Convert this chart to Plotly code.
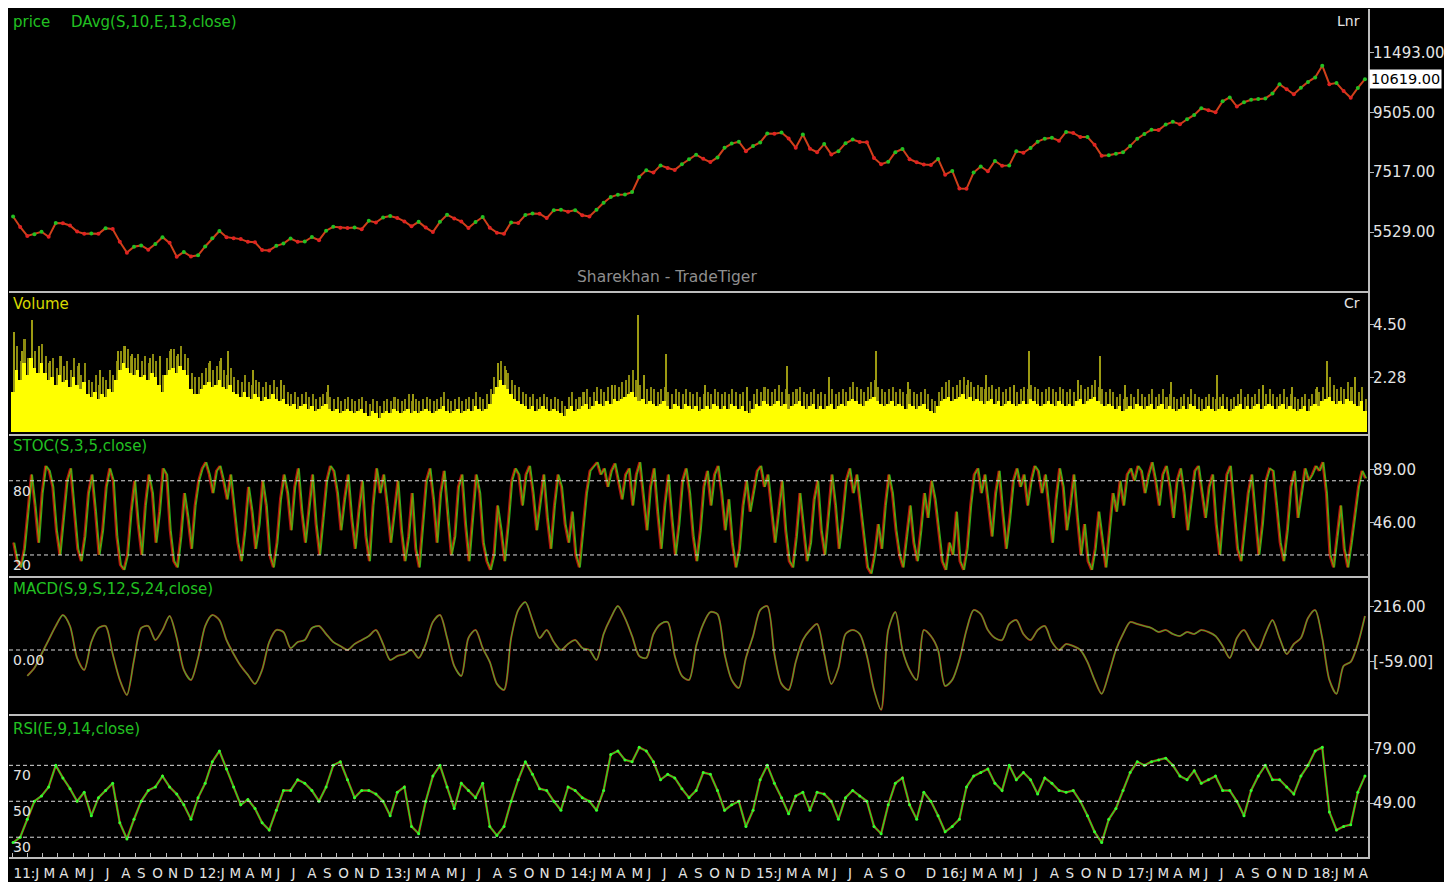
import plotly.graph_objects as go
import pandas as pd

# ---------------- data ----------------
# Close, sampled every two weeks from 2011-01-03
price_close = [
    6050, 5700, 5400, 5460, 5540, 5370, 5830, 5820, 5750, 5545, 5475, 5485, 5470, 5660, 5630, 5210, 4845, 5040, 5085, 4945, 5130, 5360, 5170, 4710, 4865, 4715,
    4755, 5050, 5325, 5565, 5360, 5320, 5295, 5205, 5190, 4930, 4920, 5070, 5145, 5315, 5205, 5215, 5365, 5260, 5575, 5705, 5675, 5665, 5685, 5625, 5905, 5850,
    6015, 6065, 6000, 5885, 5720, 5870, 5680, 5530, 5870, 6105, 5985, 5880, 5665, 5865, 6030, 5675, 5510, 5470, 5850, 5835, 6095, 6145, 6140, 5995, 6260, 6275,
    6210, 6260, 6090, 6050, 6275, 6505, 6695, 6775, 6780, 6860, 7365, 7585, 7510, 7750, 7665, 7600, 7790, 7955, 8105, 7970, 7860, 8015, 8335, 8475, 8540, 8225,
    8395, 8515, 8810, 8805, 8845, 8645, 8340, 8780, 8305, 8190, 8460, 8115, 8225, 8485, 8610, 8530, 8520, 8000, 7790, 7870, 8190, 8295, 7955, 7855, 7780, 7760,
    7965, 7440, 7565, 6980, 6970, 7510, 7715, 7555, 7900, 7735, 7750, 8220, 8170, 8330, 8540, 8640, 8670, 8570, 8865, 8830, 8695, 8695, 8435, 8075, 8085, 8140, 8185,
    8400, 8640, 8795, 8940, 8925, 9110, 9200, 9120, 9285, 9430, 9655, 9590, 9520, 9885, 10015, 9710, 9855, 9935, 9965, 9980, 10145, 10450, 10285, 10120, 10335, 10530,
    10680, 11070, 10455, 10490, 10225, 10000, 10330, 10619,
]

# MACD, same two-week sampling
macd_values = [
    None, None, -130, -90, -20, 50, 120, 175, 120, -40,
    -100, 40, 110, 120, -20, -150, -225, -50, 110, 120,
    50, 100, 170, 60, -100, -150, -40, 120, 175, 150,
    50, -20, -80, -125, -170, -100, 40, 100, 90, 10,
    40, 50, 110, 120, 80, 40, 20, 0, 30, 50,
    70, 100, 30, -50, -30, -20, 0, -40, 30, 140,
    175, 60, -80, -130, 60, 100, 10, -60, -170, -200,
    60, 200, 240, 150, 60, 100, 40, 0, 30, 50,
    10, 0, -50, 80, 160, 220, 160, 70, -30, -40,
    80, 130, 140, -30, -130, -150, 20, 130, 190, 180,
    -20, -150, -190, -40, 70, 200, 220, -20, -170, -200,
    -60, 50, 100, 130, -20, -170, -90, 80, 100, 80,
    -30, -200, -300, 100, 190, 0, -100, -150, 100, 70,
    0, -180, -150, -50, 100, 200, 180, 100, 60, 50,
    130, 150, 80, 50, 100, 120, 40, 0, 30, 20,
    0, -60, -150, -220, -120, 0, 80, 140, 130, 120,
    110, 90, 100, 80, 70, 90, 80, 100, 90, 70,
    20, -40, 60, 100, 40, 0, 80, 150, 60, -20,
    30, 60, 160, 200, 60, -150, -220, -80, -60, 30,
    170,
]

# RSI, same two-week sampling
rsi_values = [
    27, 30, 40, 50, 53, 58, 70, 63, 57, 50,
    55, 42, 52, 56, 60, 38, 29, 40, 50, 56,
    58, 64, 58, 54, 48, 40, 52, 60, 72, 78,
    68, 58, 48, 51, 46, 38, 34, 45, 56, 56,
    62, 60, 56, 50, 58, 70, 72, 62, 52, 56,
    56, 54, 50, 42, 55, 58, 36, 32, 50, 64,
    70, 58, 46, 60, 56, 52, 60, 36, 31, 36,
    50, 62, 72, 65, 57, 56, 50, 45, 58, 56,
    52, 50, 45, 56, 76, 78, 73, 72, 80, 78,
    72, 62, 65, 63, 57, 52, 56, 66, 65, 56,
    45, 48, 50, 36, 45, 62, 70, 60, 52, 43,
    53, 55, 45, 55, 54, 50, 40, 52, 56, 53,
    50, 36, 32, 48, 60, 63, 48, 40, 55, 50,
    42, 33, 36, 40, 58, 64, 66, 68, 60, 56,
    70, 62, 66, 62, 54, 63, 60, 56, 55, 56,
    50, 42, 33, 27, 40, 46, 56, 66, 72, 70,
    72, 73, 74, 70, 64, 62, 67, 60, 62, 64,
    56, 56, 50, 42, 56, 64, 70, 62, 62, 58,
    54, 64, 70, 78, 80, 44, 34, 36, 37, 55,
    64,
]

# Stochastic, weekly from 2011-01-03
stoc_k = [
    30, 15, 10, 25, 55, 85, 60, 30, 70, 92, 88, 75, 40, 20, 50, 80, 90, 60, 25, 15, 35, 70, 85, 55, 20, 40, 75, 90, 80, 35, 12, 8, 20, 55, 80, 45, 20, 60, 85, 70, 30, 55, 90, 85, 40, 15, 10, 35, 70, 50, 25, 60,
    80, 90, 95, 85, 70, 88, 92, 80, 65, 85, 60, 30, 15, 40, 75, 55, 25, 45, 80, 60, 20, 10, 30, 65, 85, 70, 40, 75, 90, 55, 30, 60, 85, 45, 20, 50, 80, 92, 88, 70, 40, 65, 85, 50, 25, 55, 80, 35, 15, 60, 90, 70,
    85, 60, 30, 55, 80, 40, 15, 35, 70, 25, 10, 45, 80, 90, 65, 30, 70, 88, 50, 20, 35, 75, 85, 45, 15, 50, 85, 70, 30, 15, 8, 20, 60, 40, 15, 45, 80, 90, 85, 60, 85, 92, 70, 40, 65, 85, 50, 25, 60, 85, 75, 45,
    30, 55, 20, 10, 40, 70, 88, 92, 95, 85, 90, 75, 88, 94, 80, 65, 85, 90, 60, 85, 95, 70, 40, 75, 90, 55, 25, 60, 85, 50, 20, 45, 80, 90, 70, 35, 15, 40, 75, 88, 60, 85, 92, 70, 40, 65, 30, 10, 25, 60, 80, 55,
    70, 88, 92, 75, 85, 60, 30, 55, 80, 40, 15, 10, 35, 70, 45, 15, 30, 65, 80, 40, 20, 55, 85, 60, 25, 50, 80, 90, 70, 85, 60, 30, 10, 5, 20, 45, 25, 60, 85, 70, 40, 20, 10, 35, 60, 30, 15, 40, 70, 50, 80, 65,
    40, 15, 8, 30, 20, 55, 15, 8, 25, 60, 85, 90, 70, 85, 60, 35, 70, 88, 55, 25, 50, 80, 90, 75, 85, 60, 80, 92, 88, 70, 85, 55, 30, 65, 90, 75, 40, 60, 85, 50, 20, 45, 15, 8, 25, 55, 30, 10, 40, 70, 55, 80, 60,
    85, 90, 80, 92, 88, 70, 85, 95, 80, 60, 85, 92, 75, 50, 80, 90, 70, 40, 65, 88, 92, 70, 50, 75, 85, 45, 20, 55, 85, 92, 60, 25, 15, 40, 70, 85, 55, 20, 45, 80, 90, 88, 60, 30, 15, 40, 75, 88, 50, 70, 90, 80,
    85, 92, 88, 95, 70, 20, 10, 35, 60, 25, 10, 30, 55, 75, 88, 82,
]

# Volume (Cr), weekly typical level from 2011-01-03
volume_cr = [
    1.7, 2.6, 2.2, 2.9, 2.4, 3.1, 2.7, 2.5, 2.9, 2.5, 2.2, 2.3, 2.0, 2.4, 2.1, 2.2, 1.9, 2.3, 2.0, 1.8, 2.1, 1.6, 1.5, 1.7, 1.4, 1.6, 1.5, 1.8, 1.7, 2.2, 2.6, 2.9, 2.7, 2.5, 2.4, 2.6, 2.3, 2.4, 2.2, 2.5, 2.3, 2.0, 1.7, 2.4, 2.6, 2.7, 2.5, 2.8, 2.6, 2.4, 1.8, 1.6,
    1.6, 1.8, 2.0, 2.1, 1.9, 2.0, 2.2, 1.9, 1.8, 2.0, 1.7, 1.6, 1.5, 1.7, 1.5, 1.4, 1.6, 1.5, 1.3, 1.5, 1.4, 1.6, 1.4, 1.3, 1.4, 1.2, 1.1, 1.2, 1.0, 1.1, 1.2, 1.0, 1.1, 0.9, 1.0, 1.1, 1.2, 1.0, 0.9, 1.0, 0.8, 0.9, 1.0, 0.9, 0.8, 0.9, 1.0, 0.8, 0.7, 0.9, 0.8, 0.6,
    0.8, 0.9, 0.8, 1.0, 0.9, 0.8, 0.9, 1.0, 0.8, 0.9, 0.8, 0.9, 1.0, 0.9, 0.8, 0.9, 1.0, 1.1, 0.9, 0.8, 0.9, 1.0, 0.8, 0.9, 1.0, 0.9, 1.1, 1.0, 0.9, 1.0, 1.2, 1.6, 1.9, 2.2, 2.0, 1.8, 1.6, 1.4, 1.3, 1.2, 1.1, 1.0, 1.1, 0.9, 1.0, 1.1, 1.0, 0.9, 1.0, 0.9, 0.8, 0.7,
    1.0, 1.1, 0.9, 1.0, 1.1, 1.2, 1.0, 1.1, 1.3, 1.2, 1.1, 1.3, 1.2, 1.4, 1.3, 1.4, 1.5, 1.6, 1.7, 1.5, 1.3, 1.4, 1.2, 1.3, 1.2, 1.1, 1.2, 1.3, 1.1, 1.0, 1.2, 1.1, 1.0, 1.2, 1.1, 1.0, 1.1, 0.9, 1.0, 1.1, 1.0, 1.2, 1.1, 1.0, 1.1, 1.0, 1.2, 1.1, 1.0, 1.1, 0.9, 0.8,
    1.0, 1.2, 1.1, 1.3, 1.2, 1.1, 1.2, 1.3, 1.1, 1.2, 1.0, 1.1, 1.2, 1.3, 1.1, 1.0, 1.1, 1.2, 1.0, 1.1, 1.0, 1.1, 1.2, 1.0, 1.1, 1.2, 1.1, 1.3, 1.4, 1.3, 1.2, 1.1, 1.3, 1.4, 1.5, 1.3, 1.2, 1.1, 1.2, 1.3, 1.1, 1.2, 1.1, 1.0, 1.2, 1.1, 1.0, 1.1, 1.2, 1.0, 0.9, 0.8,
    1.1, 1.3, 1.4, 1.5, 1.3, 1.4, 1.5, 1.6, 1.4, 1.5, 1.3, 1.4, 1.3, 1.2, 1.3, 1.4, 1.2, 1.3, 1.1, 1.2, 1.3, 1.2, 1.1, 1.2, 1.3, 1.2, 1.4, 1.3, 1.2, 1.1, 1.2, 1.3, 1.2, 1.1, 1.3, 1.2, 1.1, 1.2, 1.1, 1.3, 1.4, 1.2, 1.3, 1.4, 1.5, 1.3, 1.2, 1.1, 1.2, 1.1, 1.0, 1.1, 0.9,
    1.0, 1.1, 1.0, 1.2, 1.1, 1.0, 1.1, 1.2, 1.0, 1.1, 1.2, 1.0, 1.1, 1.0, 0.9, 1.0, 1.1, 1.0, 1.2, 1.1, 1.0, 0.9, 1.0, 1.1, 1.0, 0.9, 1.0, 1.1, 1.0, 0.9, 1.0, 1.1, 1.2, 1.0, 1.1, 1.0, 1.1, 1.2, 1.0, 1.1, 1.2, 1.1, 1.0, 1.1, 1.2, 1.0, 1.1, 1.0, 0.9, 1.0, 1.1, 0.9,
    1.1, 1.2, 1.1, 1.3, 1.4, 1.5, 1.3, 1.2, 1.3, 1.2, 1.4, 1.3, 1.2, 1.1, 1.3, 0.9,
]

# Volume (Cr), weekly highest day (olive strokes above the yellow)
volume_high_cr = [
    3.2, 3.6, 3.0, 3.9, 3.1, 3.8, 3.4, 3.3, 3.7, 3.2, 2.9, 3.1, 2.7, 3.2, 2.8, 3.0, 2.6, 3.1, 2.8, 2.4, 2.9, 2.2, 2.1, 2.4, 2.0, 2.3, 2.2, 2.6, 2.4, 3.0, 3.4, 3.6, 3.5, 3.2, 3.1, 3.3, 3.0, 3.2, 2.9, 3.3, 3.0, 2.7, 2.4, 3.1, 3.4, 3.5, 3.2, 3.6, 3.3, 3.1, 2.5, 2.3,
    2.3, 2.5, 2.7, 2.9, 2.6, 2.8, 3.0, 2.6, 2.4, 2.7, 2.3, 2.2, 2.1, 2.4, 2.1, 2.0, 2.2, 2.1, 1.9, 2.1, 2.0, 2.2, 1.9, 1.8, 2.0, 1.7, 1.6, 1.7, 1.5, 1.6, 1.7, 1.5, 1.6, 1.4, 1.5, 1.6, 1.7, 1.5, 1.4, 1.5, 1.3, 1.4, 1.5, 1.4, 1.3, 1.4, 1.5, 1.3, 1.2, 1.4, 1.3, 1.1,
    1.3, 1.4, 1.3, 1.5, 1.4, 1.3, 1.4, 1.6, 1.3, 1.4, 1.3, 1.4, 1.5, 1.4, 1.3, 1.4, 1.5, 1.7, 1.4, 1.3, 1.4, 1.5, 1.3, 1.4, 1.5, 1.4, 1.7, 1.5, 1.4, 1.6, 1.8, 2.3, 2.6, 3.0, 2.8, 2.5, 2.2, 2.0, 1.9, 1.7, 1.6, 1.5, 1.6, 1.4, 1.5, 1.6, 1.5, 1.4, 1.5, 1.4, 1.3, 1.1,
    1.5, 1.7, 1.4, 1.5, 1.7, 1.8, 1.5, 1.7, 1.9, 1.8, 1.7, 1.9, 1.8, 2.0, 1.9, 2.1, 2.2, 2.4, 2.6, 2.2, 2.0, 2.1, 1.8, 1.9, 1.8, 1.7, 1.8, 1.9, 1.7, 1.6, 1.8, 1.7, 1.6, 1.8, 1.7, 1.6, 1.7, 1.5, 1.6, 1.7, 1.6, 1.8, 1.7, 1.6, 1.7, 1.6, 1.8, 1.7, 1.6, 1.7, 1.4, 1.3,
    1.6, 1.8, 1.7, 1.9, 1.8, 1.7, 1.8, 2.0, 1.7, 1.8, 1.6, 1.7, 1.8, 1.9, 1.7, 1.6, 1.7, 1.8, 1.6, 1.7, 1.6, 1.7, 1.8, 1.6, 1.7, 1.8, 1.7, 1.9, 2.1, 1.9, 1.8, 1.7, 1.9, 2.1, 2.2, 1.9, 1.8, 1.7, 1.8, 1.9, 1.7, 1.8, 1.7, 1.6, 1.8, 1.7, 1.6, 1.7, 1.8, 1.6, 1.4, 1.3,
    1.7, 1.9, 2.1, 2.2, 1.9, 2.0, 2.2, 2.3, 2.0, 2.1, 1.9, 2.0, 1.9, 1.8, 1.9, 2.0, 1.8, 1.9, 1.7, 1.8, 1.9, 1.8, 1.7, 1.8, 1.9, 1.8, 2.0, 1.9, 1.8, 1.7, 1.8, 1.9, 1.8, 1.7, 1.9, 1.8, 1.7, 1.8, 1.7, 1.9, 2.0, 1.8, 1.9, 2.0, 2.2, 1.9, 1.8, 1.7, 1.8, 1.7, 1.5, 1.6, 1.4,
    1.5, 1.6, 1.5, 1.8, 1.6, 1.5, 1.6, 1.8, 1.5, 1.6, 1.8, 1.5, 1.6, 1.5, 1.4, 1.5, 1.6, 1.5, 1.8, 1.6, 1.5, 1.4, 1.5, 1.6, 1.5, 1.4, 1.5, 1.6, 1.5, 1.4, 1.5, 1.6, 1.8, 1.5, 1.6, 1.5, 1.6, 1.8, 1.5, 1.6, 1.8, 1.6, 1.5, 1.6, 1.8, 1.5, 1.6, 1.5, 1.4, 1.5, 1.6, 1.4,
    1.6, 1.8, 1.7, 1.9, 2.1, 2.3, 2.0, 1.8, 1.9, 1.8, 2.1, 1.9, 1.8, 1.7, 1.9, 1.4,
]

# Tall single-day volume spikes (Cr)
spike_dates = [
    "2011-01-05", "2011-01-20", "2011-02-10", "2011-02-24", "2011-03-17", "2011-04-07", "2011-05-12", "2011-06-23",
    "2011-07-28", "2011-08-11", "2011-08-25", "2011-09-29", "2011-10-20", "2011-11-10", "2011-11-24", "2012-01-26",
    "2012-02-16", "2012-03-01", "2012-04-19", "2012-06-14", "2012-09-13", "2013-02-28", "2013-08-15", "2013-08-29",
    "2014-01-30", "2014-03-27", "2014-05-16", "2014-05-29", "2014-07-10", "2014-09-25", "2014-12-18", "2015-03-05",
    "2015-05-28", "2015-08-27", "2015-10-29", "2016-02-25", "2016-03-31", "2016-05-26", "2016-06-24", "2016-09-29",
    "2016-11-10", "2016-12-29", "2017-03-30", "2017-06-29", "2017-09-28", "2017-11-23", "2018-01-11", "2018-02-01",
    "2018-03-28",
]
spike_cr = [
    4.2, 3.4, 4.7, 3.6, 3.0, 3.2, 2.9, 2.6,
    3.4, 3.6, 3.3, 3.1, 3.2, 3.5, 3.3, 3.0,
    3.1, 3.4, 2.6, 2.2, 2.0, 1.6, 2.9, 2.6,
    1.7, 2.0, 4.9, 2.4, 3.3, 2.0, 1.9, 2.8,
    2.3, 3.4, 2.1, 2.2, 2.4, 2.0, 3.4, 2.2,
    3.2, 2.0, 2.1, 2.4, 2.0, 1.9, 1.9, 3.0,
    2.3,
]

# Axis labels
price_ticks = [11493, 9505, 7517, 5529]
price_tick_text = ["11493.00", "9505.00", "7517.00", "5529.00"]
volume_ticks = [4.50, 2.28]
volume_tick_text = ["4.50", "2.28"]
stoc_ticks = [89, 46]
stoc_tick_text = ["89.00", "46.00"]
macd_ticks = [216, -59]
macd_tick_text = ["216.00", "[-59.00]"]
rsi_ticks = [79, 49]
rsi_tick_text = ["79.00", "49.00"]
last_close_label = "10619.00"
year_labels = ["11:", "12:", "13:", "14:", "15:", "16:", "17:", "18:"]
month_letters = ["J", "F", "M", "A", "M", "J", "J", "A", "S", "O", "N", "D"]
hidden_months = [("2015", 11)]  # labels dropped by the terminal for lack of room

# ---------------- build ----------------
biweek_dates = pd.date_range("2011-01-03", periods=len(price_close), freq="14D")
week_dates = pd.date_range("2011-01-03", periods=len(stoc_k), freq="7D")
vol_dates = pd.date_range("2011-01-03", periods=len(volume_cr), freq="7D")
volh_dates = pd.date_range("2011-01-03", periods=len(volume_high_cr), freq="7D")
DAY = pd.Timedelta(days=1)

W, H = 1436, 874
PLOT_TOP, PLOT_BOTTOM = 9, 857          # page pixel rows of the plotting area
plot_h = PLOT_BOTTOM - PLOT_TOP
bounds = [857, 715, 577, 435, 292, 9]    # page rows of panel boundaries (bottom -> top)
frac = [(PLOT_BOTTOM - b) / plot_h for b in bounds]

GREEN = "#22c022"
RED = "#e02222"
LABEL = "#e4e4e4"
LINEC = "#bdbdbd"
FONT = "DejaVu Sans"

fig = go.Figure()

# price
pcols = [GREEN] + [GREEN if price_close[i] >= price_close[i - 1] else RED for i in range(1, len(price_close))]
fig.add_trace(go.Scatter(x=biweek_dates, y=price_close, yaxis="y5", mode="lines",
                         line=dict(color="#d0401a", width=2.0), hoverinfo="skip"))
fig.add_trace(go.Scatter(x=biweek_dates, y=price_close, yaxis="y5", mode="markers",
                         marker=dict(color=pcols, size=4), hoverinfo="skip"))

# volume
fig.add_trace(go.Bar(x=volh_dates + 2 * DAY, y=volume_high_cr, yaxis="y4",
                     marker=dict(color="#8c8a10", line=dict(width=0)), width=3 * 86400000))
fig.add_trace(go.Bar(x=pd.to_datetime(spike_dates), y=spike_cr, yaxis="y4",
                     marker=dict(color="#9c9a12", line=dict(width=0)), width=2 * 86400000))
fig.add_trace(go.Bar(x=vol_dates, y=volume_cr, yaxis="y4",
                     marker=dict(color="#ffff00", line=dict(width=0)), width=7 * 86400000))

# stochastic (%K red, %D green drawn a few days behind, olive trace)
fig.add_trace(go.Scatter(x=week_dates, y=stoc_k, yaxis="y3", mode="lines",
                         line=dict(color="#b01010", width=1.8), hoverinfo="skip"))
fig.add_trace(go.Scatter(x=week_dates + 3 * DAY, y=stoc_k, yaxis="y3", mode="lines",
                         line=dict(color="#20b020", width=1.2), hoverinfo="skip"))
fig.add_trace(go.Scatter(x=week_dates + 1.5 * DAY, y=stoc_k, yaxis="y3", mode="lines",
                         line=dict(color="#a08a00", width=1.0), hoverinfo="skip"))

# MACD
fig.add_trace(go.Scatter(x=biweek_dates, y=macd_values, yaxis="y2", mode="lines",
                         line=dict(color="#c01a10", width=2.0, shape="spline", smoothing=0.8), hoverinfo="skip"))
fig.add_trace(go.Scatter(x=biweek_dates, y=macd_values, yaxis="y2", mode="lines",
                         line=dict(color="#40b030", width=1.1, shape="spline", smoothing=0.8), hoverinfo="skip"))

# RSI
fig.add_trace(go.Scatter(x=biweek_dates, y=rsi_values, yaxis="y", mode="lines",
                         line=dict(color="#c01a10", width=2.4), hoverinfo="skip"))
fig.add_trace(go.Scatter(x=biweek_dates, y=rsi_values, yaxis="y", mode="lines+markers",
                         line=dict(color="#22e022", width=1.4), marker=dict(size=3, color="#30ff30"),
                         hoverinfo="skip"))

# x ticks: first of every month
month_starts = pd.date_range("2011-01-01", "2018-04-01", freq="MS")
tick_text = []
for d in month_starts:
    if d.month == 1:
        t = year_labels[d.year - 2011] + month_letters[0]
    elif d.month == 2:
        t = ""
    elif (str(d.year), d.month) in hidden_months:
        t = ""
    else:
        t = month_letters[d.month - 1]
    tick_text.append(t)

def yax(dom, rng, tv):
    return dict(domain=dom, range=rng, side="right", anchor="x", showgrid=False, zeroline=False,
                showline=True, linecolor=LINEC, linewidth=2, ticks="outside", ticklen=4,
                tickcolor=LINEC, tickvals=tv, showticklabels=False, fixedrange=True)

fig.update_layout(
    width=W, height=H,
    margin=dict(l=1, r=76, t=1, b=25, pad=0),
    paper_bgcolor="#000000", plot_bgcolor="#000000",
    showlegend=False, barmode="overlay", bargap=0,
    font=dict(family=FONT, size=13, color=LABEL),
    xaxis=dict(type="date", range=["2010-12-26", "2018-04-22"], anchor="y", domain=[0, 1],
               showgrid=False, zeroline=False, showline=True, linecolor=LINEC, linewidth=2,
               tickvals=list(month_starts), ticktext=tick_text, tickangle=0,
               ticks="inside", ticklen=4, tickcolor=LINEC,
               ticklabelposition="outside right", ticklabelstandoff=3,
               tickfont=dict(family=FONT, size=13.5, color=LABEL)),
    yaxis=yax([frac[0], frac[1]], [19, 98], rsi_ticks),
    yaxis2=yax([frac[1], frac[2]], [-326, 366], macd_ticks),
    yaxis3=yax([frac[2], frac[3]], [2.2, 117], stoc_ticks),
    yaxis4=yax([frac[3], frac[4]], [-0.11, 5.88], volume_ticks),
    yaxis5=yax([frac[4], frac[5]], [3534, 12958], price_ticks),
)

shapes = []
for f in frac[1:5]:
    shapes.append(dict(type="line", xref="paper", yref="paper", x0=0, x1=1, y0=f, y1=f,
                       line=dict(color=LINEC, width=2)))
for ax, val in [("y3", 80), ("y3", 20), ("y2", 0), ("y", 70), ("y", 50), ("y", 30)]:
    shapes.append(dict(type="line", xref="paper", yref=ax, x0=0, x1=1, y0=val, y1=val,
                       line=dict(color="#dcdcdc", width=1, dash="4px,3px")))
fig.update_layout(shapes=shapes)

ann = []
def title(text, x, ytop, color, yshift=-2, xanchor="left", xshift=0, size=15):
    ann.append(dict(text=text, xref="paper", yref="paper", x=x, y=ytop, xanchor=xanchor, yanchor="top",
                    showarrow=False, yshift=yshift, xshift=xshift,
                    font=dict(family=FONT, size=size, color=color)))

title("price", 0.0015, 1, GREEN)
title("DAvg(S,10,E,13,close)", 0.0445, 1, GREEN)
title("Lnr", 1, 1, LABEL, xanchor="right", xshift=-6, size=14)
title("Volume", 0.0015, frac[4], "#d8d800", yshift=-1)
title("Cr", 1, frac[4], LABEL, yshift=-1, xanchor="right", xshift=-6, size=14)
title("STOC(S,3,5,close)", 0.0015, frac[3], GREEN, yshift=0)
title("MACD(S,9,S,12,S,24,close)", 0.0015, frac[2], GREEN, yshift=-1)
title("RSI(E,9,14,close)", 0.0015, frac[1], GREEN, yshift=-3)

# right-side value labels
for ax, tv, tt in [("y5", price_ticks, price_tick_text), ("y4", volume_ticks, volume_tick_text),
                   ("y3", stoc_ticks, stoc_tick_text), ("y2", macd_ticks, macd_tick_text),
                   ("y", rsi_ticks, rsi_tick_text)]:
    for v, t in zip(tv, tt):
        ann.append(dict(text=t, xref="paper", yref=ax, x=1, y=v, xanchor="left", yanchor="middle",
                        xshift=3, showarrow=False, font=dict(family=FONT, size=15, color=LABEL)))

for ax, val, txt in [("y3", 80, "80"), ("y3", 20, "20"), ("y2", 0, "0.00"),
                     ("y", 70, "70"), ("y", 50, "50"), ("y", 30, "30")]:
    ann.append(dict(text=txt, xref="paper", yref=ax, x=0.0015, y=val, xanchor="left", yanchor="top",
                    showarrow=False, yshift=0, font=dict(family=FONT, size=14, color=LABEL)))

ann.append(dict(text="Sharekhan - TradeTiger", xref="paper", yref="paper",
                x=(667 - 9) / 1359, y=(PLOT_BOTTOM - 277) / plot_h, xanchor="center", yanchor="middle",
                showarrow=False, font=dict(family=FONT, size=15.5, color="#8e8e8e")))
ann.append(dict(text=last_close_label, xref="paper", yref="y5", x=1, y=price_close[-1],
                xanchor="left", yanchor="middle", xshift=1, showarrow=False, bgcolor="#ffffff",
                borderpad=1, font=dict(family=FONT, size=14.5, color="#000000")))
fig.update_layout(annotations=ann)

fig.write_html("out.html")
